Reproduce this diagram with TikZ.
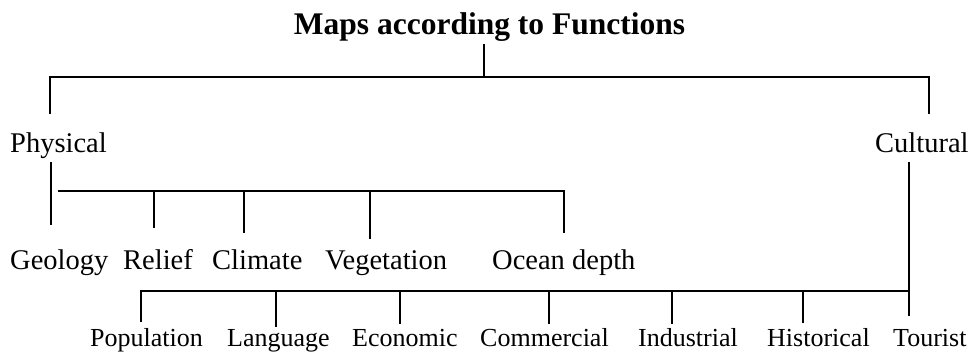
\documentclass[tikz,border=0pt]{standalone}
\usepackage{fontspec}
\setmainfont{Liberation Serif}
\begin{document}
\begin{tikzpicture}[x=1pt,y=-1pt,
  lbl/.style={inner sep=0pt,anchor=base west,font=\fontsize{28.5}{30}\selectfont},
  sml/.style={inner sep=0pt,anchor=base west,font=\fontsize{26}{28}\selectfont},
  ttl/.style={inner sep=0pt,anchor=base,font=\fontsize{31.5}{33}\selectfont\bfseries},
  conn/.style={line width=2pt}]
\useasboundingbox (0,0) rectangle (973,354);
% texts
\node[ttl] (title) at (489.5,34) {Maps according to Functions};
\node[lbl] (phys) at (10,152) {Physical};
\node[lbl] (cult) at (875,152) {Cultural};
\node[lbl] (geo) at (10,269) {Geology};
\node[lbl] (rel) at (123,269) {Relief};
\node[lbl] (cli) at (212,269) {Climate};
\node[lbl] (veg) at (325,269) {Vegetation};
\node[lbl] (oce) at (492,269) {Ocean depth};
\node[sml] (pop) at (90,346) {Population};
\node[sml] (lan) at (227,346) {Language};
\node[sml] (eco) at (352,346) {Economic};
\node[sml] (com) at (480,346) {Commercial};
\node[sml] (ind) at (638,346) {Industrial};
\node[sml] (his) at (767,346) {Historical};
\node[sml] (tou) at (893,346) {Tourist};
% junction coordinates
\coordinate (t0) at (484,44);
\coordinate (t1) at (484,77);
\coordinate (pL) at (50,77);
\coordinate (pR) at (929,77);
\coordinate (p1) at (50,114);
\coordinate (c1) at (929,114);
% top level
\draw[conn] (t0) -- (t1);
\draw[conn] (p1) -- (pL) -- (pR) -- (c1);
% physical branch
\coordinate (ph0) at (51,162);
\coordinate (ph1) at (51,225);
\draw[conn] (ph0) -- (ph1);
\coordinate (bA) at (58,191);
\coordinate (bB) at (564,191);
\draw[conn] (bA) -- (bB) -- (564,233);
\draw[conn] (154,191) -- (154,228);
\draw[conn] (244,191) -- (244,233);
\draw[conn] (370,191) -- (370,239);
% cultural branch
\coordinate (cu0) at (909,162);
\coordinate (cu1) at (909,316);
\draw[conn] (cu0) -- (cu1);
\coordinate (cA) at (141,291);
\draw[conn] (141,322) -- (cA) -- (909,291);
\draw[conn] (276,291) -- (276,327);
\draw[conn] (400,291) -- (400,324);
\draw[conn] (549,291) -- (549,324);
\draw[conn] (672,291) -- (672,324);
\draw[conn] (803,291) -- (803,323);
\end{tikzpicture}
\end{document}
